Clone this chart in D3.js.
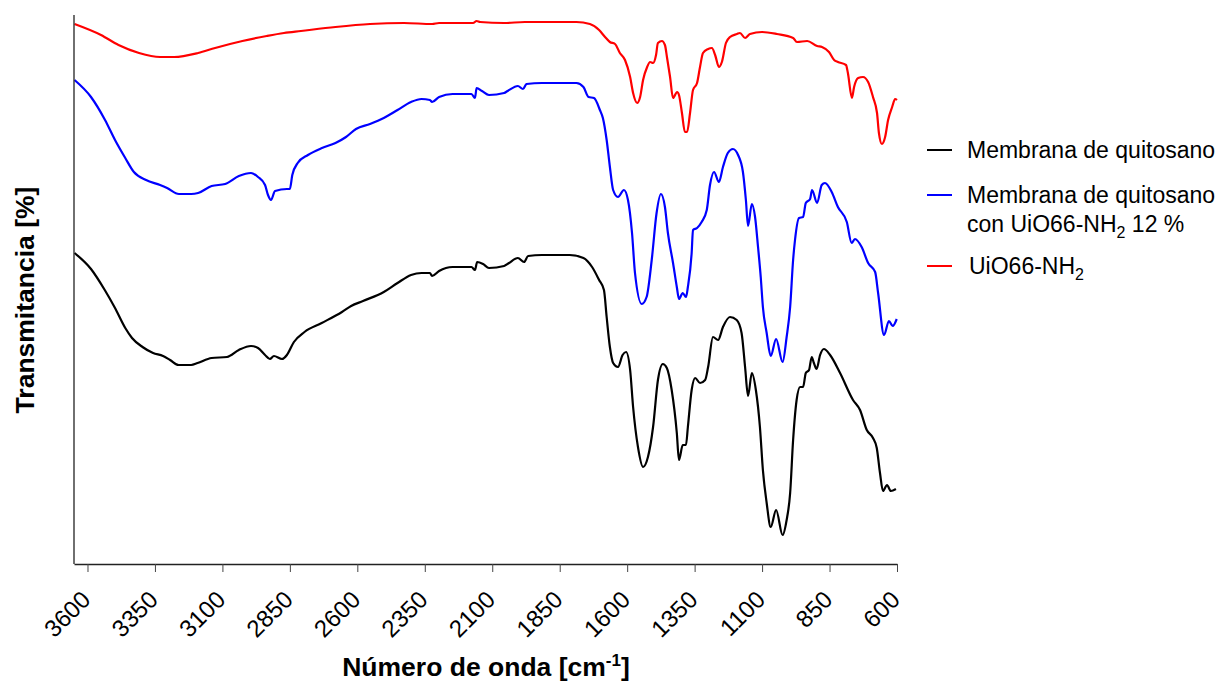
<!DOCTYPE html>
<html>
<head>
<meta charset="utf-8">
<script src="https://cdn.jsdelivr.net/npm/d3@7"></script>
<style>
  body { margin: 0; background: #fff; }
  text { font-family: Arial, "Liberation Sans", sans-serif; }
</style>
</head>
<body>
<div id="chart"></div>
<script>
// global variables
var width = 1223,
    height = 682;

// axis ticks and labels
var xTicks = [3600, 3350, 3100, 2850, 2600, 2350, 2100, 1850, 1600, 1350, 1100, 850, 600];
var seriesNames = ["Membrana de quitosano", "Membrana de quitosano|con UiO66-NH2 12 %", "UiO66-NH2"];
var seriesColors = ["#000000", "#0000ff", "#ff0000"];

// spectra: [wavenumber cm-1, transmittance (a.u., offset)]
var membrana = [[3648,311],[3587,295],[3536,274],[3498,256],[3460,236],[3435,226],[3396,217],[3357,211],
  [3320,208],[3294,204],[3262,199],[3216,199],[3192,201],[3140,206],[3083,207],[3039,214],[2994,218],
  [2968,216],[2942,209],[2924,205],[2909,208],[2879,205],[2861,209],[2835,222],[2796,232],[2732,241],
  [2657,252],[2623,258],[2579,263],[2502,272],[2451,281],[2401,289],[2362,291],[2331,291],[2323,288],
  [2297,293],[2247,297],[2177,297],[2164,294],[2156,302],[2134,300],[2112,296],[2056,298],[2038,301],
  [2005,306],[1982,302],[1967,308],[1916,309],[1813,309],[1762,306],[1730,297],[1704,284],[1686,274],
  [1676,247],[1664,217],[1652,201],[1634,197],[1617,209],[1604,212],[1589,194],[1578,157],[1560,117],
  [1541,97],[1523,107],[1504,137],[1486,184],[1468,200],[1453,196],[1435,174],[1416,131],[1408,104],
  [1394,119],[1382,119],[1375,137],[1361,174],[1348,186],[1330,181],[1311,184],[1300,197],[1282,227],
  [1263,224],[1245,237],[1219,247],[1194,244],[1176,231],[1163,197],[1152,168],[1138,191],[1123,174],
  [1108,137],[1097,94],[1083,61],[1068,37],[1048,54],[1024,29],[1009,44],[996,71],[985,124],[972,164],
  [959,177],[948,177],[938,191],[926,194],[916,207],[908,201],[898,195],[885,209],[871,215],[848,209],
  [811,191],[763,164],[737,154],[712,134],[689,126],[675,116],[663,91],[652,73],[637,79],[623,73],[604,75]];

var membranaUio = [[3648,484],[3587,467],[3535,444],[3498,424],[3460,406],[3428,392],[3383,384],[3331,379],
  [3305,376],[3261,370],[3216,370],[3190,371],[3140,378],[3090,380],[3039,388],[2994,391],[2968,387],
  [2942,379],[2931,369],[2920,364],[2905,373],[2861,375],[2850,375],[2841,389],[2821,401],[2783,409],
  [2731,416],[2681,421],[2642,427],[2605,435],[2553,440],[2502,446],[2451,454],[2401,462],[2362,465],
  [2331,464],[2323,462],[2297,467],[2247,470],[2177,470],[2164,466],[2158,476],[2138,473],[2112,469],
  [2056,471],[2043,473],[2005,478],[1986,475],[1973,480],[1916,481],[1788,481],[1762,477],[1743,467],
  [1723,466],[1701,454],[1690,446],[1676,424],[1664,397],[1652,374],[1634,367],[1612,374],[1597,364],
  [1582,331],[1571,291],[1546,260],[1528,267],[1509,304],[1491,351],[1475,370],[1460,357],[1449,331],
  [1430,301],[1416,277],[1408,265],[1394,271],[1382,267],[1375,277],[1361,311],[1356,334],[1341,336],
  [1324,342],[1305,354],[1293,379],[1278,392],[1260,382],[1245,397],[1227,411],[1208,415],[1189,409],
  [1171,392],[1160,364],[1152,338],[1138,360],[1126,347],[1115,317],[1105,287],[1097,257],[1083,231],
  [1068,208],[1048,225],[1024,202],[1009,227],[996,257],[985,304],[978,324],[963,346],[948,347],[938,361],
  [922,365],[915,374],[896,361],[879,379],[867,381],[842,372],[819,357],[786,342],[768,321],[756,325],
  [731,317],[707,301],[681,292],[670,271],[648,229],[630,243],[616,238],[601,245]];

var uio = [[3648,540],[3550,529],[3485,519],[3409,511],[3331,507],[3279,507],[3190,511],[3127,516],
  [3026,523],[2936,528],[2872,531],[2809,533],[2681,537],[2553,540],[2427,541],[2323,540],[2297,541],
  [2171,541],[2158,543],[2145,542],[2056,541],[1979,542],[1916,542],[1788,542],[1738,540],[1704,534],
  [1682,527],[1664,522],[1645,520],[1627,511],[1608,504],[1589,487],[1578,471],[1563,461],[1552,467],
  [1541,484],[1526,497],[1515,502],[1504,501],[1493,509],[1486,521],[1471,523],[1460,519],[1452,506],
  [1441,487],[1430,466],[1415,472],[1408,469],[1397,451],[1386,432],[1378,432],[1367,451],[1356,474],
  [1341,481],[1330,497],[1319,511],[1300,515],[1286,516],[1274,509],[1260,497],[1249,502],[1234,521],
  [1219,527],[1193,530],[1182,531],[1163,526],[1145,530],[1100,532],[1045,530],[985,526],[971,522],
  [933,523],[896,518],[878,517],[852,512],[833,504],[819,502],[789,499],[782,491],[767,466],[759,477],
  [744,486],[726,487],[707,482],[689,467],[674,451],[667,431],[656,420],[644,427],[633,444],[618,457],
  [607,465],[600,464]];

var series = [membrana, membranaUio, uio];

// create svg figure
var svg = d3.select("#chart").append("svg")
    .attr("width", width)
    .attr("height", height);

// scales
var x = d3.scaleLinear()
    .domain([3650, 600])
    .range([74, 897]);

var y = d3.scaleLinear()
    .domain([0, 549])
    .range([564, 15]);

// spectra lines
var line = d3.line()
    .x(function(d){ return x(d[0]); })
    .y(function(d){ return y(d[1]); })
    .curve(d3.curveMonotoneX);

svg.selectAll(".spec")
    .data(series)
  .enter().append("path")
    .attr("class", "spec")
    .attr("d", line)
    .style("fill", "none")
    .style("stroke", function(d, i){ return seriesColors[i]; })
    .style("stroke-width", 2.2)
    .style("stroke-linejoin", "round");

// x axis
var xaxis = d3.axisBottom(x)
    .tickValues(xTicks)
    .tickSize(8)
    .tickSizeOuter(0)
    .tickFormat(d3.format("d"));

var gx = svg.append("g")
    .attr("transform", "translate(0," + y(0) + ")")
    .call(xaxis);

gx.select(".domain").attr("stroke", "#222").attr("stroke-width", 1.3);
gx.selectAll(".tick line").attr("stroke", "#444");
gx.selectAll(".tick text")
    .style("font-size", "24px")
    .style("font-family", "Arial, 'Liberation Sans', sans-serif")
    .attr("fill", "#000")
    .attr("text-anchor", "end")
    .attr("x", 0)
    .attr("y", 0)
    .attr("dx", 0)
    .attr("dy", 0)
    .attr("transform", "translate(4,37) rotate(-45)");

// y axis (line only)
svg.append("line")
    .attr("x1", x(3650)).attr("x2", x(3650))
    .attr("y1", y(549)).attr("y2", y(0))
    .attr("stroke", "#222")
    .attr("stroke-width", 1.3);

// axis titles
var xt = svg.append("text")
    .attr("x", 486)
    .attr("y", 676)
    .attr("text-anchor", "middle")
    .style("font-size", "26.5px")
    .style("font-weight", "bold")
    .text("Número de onda [cm");
xt.append("tspan").attr("dy", -10).style("font-size", "17px").text("-1");
xt.append("tspan").attr("dy", 10).text("]");

svg.append("text")
    .attr("transform", "translate(34,300) rotate(-90)")
    .attr("text-anchor", "middle")
    .style("font-size", "26.5px")
    .style("font-weight", "bold")
    .text("Transmitancia [%]");

// legend
var legendY = [150, 195, 266];
var legend = svg.selectAll(".legend")
    .data(seriesNames)
  .enter().append("g")
    .attr("class", "legend")
    .attr("transform", function(d, i){ return "translate(0," + legendY[i] + ")"; });

legend.append("line")
    .attr("x1", 927).attr("x2", 952)
    .attr("y1", 0).attr("y2", 0)
    .attr("stroke", function(d, i){ return seriesColors[i]; })
    .attr("stroke-width", 2);

legend.each(function(d, i){
    var t = d3.select(this).append("text")
        .attr("x", i == 2 ? 969 : 967)
        .attr("y", 8)
        .style("font-size", "23px")
        .attr("fill", "#000");
    d.split("|").forEach(function(part, k){
        var bits = part.split("NH2");
        var first = t.append("tspan").attr("x", i == 2 ? 969 : 967).attr("dy", k == 0 ? 0 : 29).text(bits[0]);
        if(bits.length > 1){
            first.text(bits[0] + "NH");
            t.append("tspan").attr("dy", 6).style("font-size", "16px").text("2");
            t.append("tspan").attr("dy", -6).text(bits[1]);
        }
    });
});
</script>
</body>
</html>
